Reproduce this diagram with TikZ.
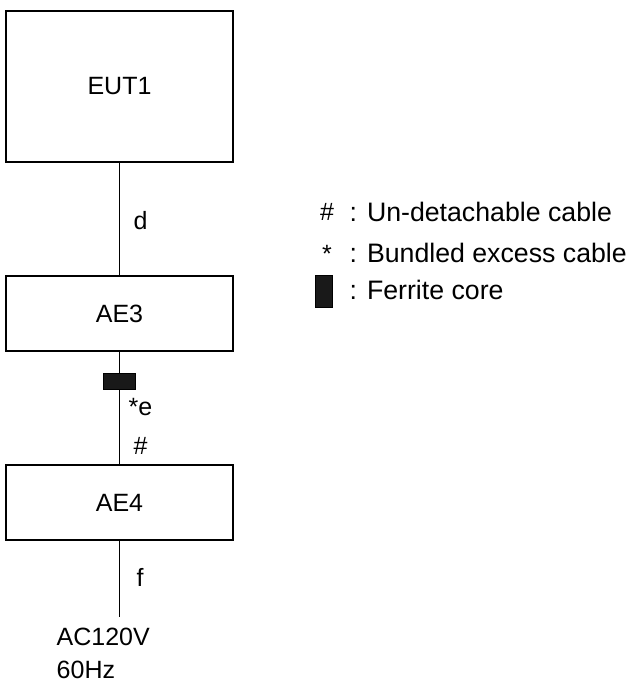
\documentclass[tikz,border=0pt]{standalone}
\usepackage{fontspec}
\setmainfont{Liberation Sans}
\usepackage{tikz}

\begin{document}
\begin{tikzpicture}[x=1pt, y=-1pt, line width=1.4pt,
        font = \fontsize{25}{33}\selectfont,
        unit/.style = {draw, minimum width=227pt, inner sep=0pt},
        ferrite/.style = {draw, fill=black!90, line width=1pt, inner sep=0pt},
        lbl/.style = {anchor=west, inner sep=0pt},
        legend/.style = {anchor=west, inner sep=0pt, font=\fontsize{26.7}{32}\selectfont}]
        \useasboundingbox (0,0) rectangle (636,682);

        \node[unit, minimum height=151pt] (eut1) at (119.5,86.5) {EUT1};
        \node[unit, minimum height=75pt] (ae3) at (119.5,313.5) {AE3};
        \node[unit, minimum height=75pt] (ae4) at (119.5,502.5) {AE4};
        \coordinate (mains) at (119.5,617);

        \draw (eut1.south) -- (ae3.north);
        \draw (ae3.south) -- (ae4.north);
        \draw (ae4.south) -- (mains);

        \node[ferrite, minimum width=32pt, minimum height=16pt] (fcore) at (119.5,381) {};

        \node[lbl] (d) at (133,221) {d};
        \node[lbl] (e) at (128,407) {*e};
        \node[lbl] (hash) at (133,446) {\#};
        \node[lbl] (f) at (136,577) {f};
        \node[lbl, align=left] (ac) at (56,653) {AC120V\\60Hz};

        % legend
        \node (lhash) at (327,212) {\#};
        \node (lstar) at (327,254) {*};
        \node[ferrite, minimum width=17pt, minimum height=32pt] (lcore) at (323.5,291) {};
        \node[legend] (t1) at (349,212) {: Un-detachable cable};
        \node[legend] (t2) at (349,253) {: Bundled excess cable};
        \node[legend] (t3) at (349,290) {: Ferrite core};
    \end{tikzpicture}
\end{document}
